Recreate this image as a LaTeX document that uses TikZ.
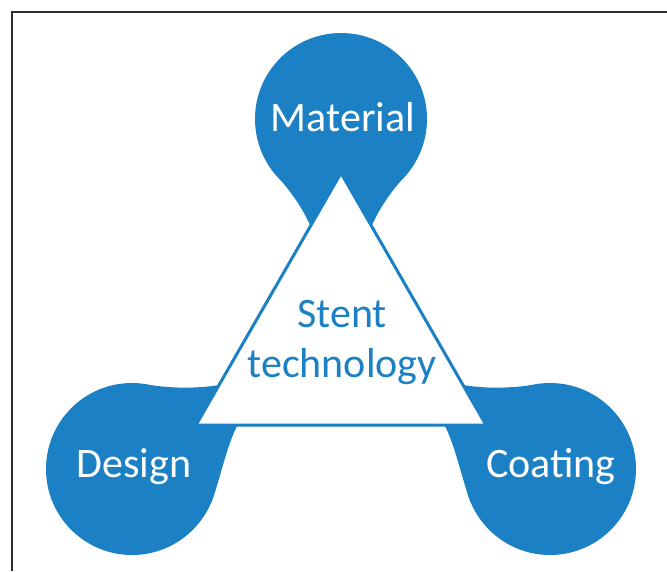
\documentclass[tikz,border=0pt]{standalone}
\usepackage{fontspec}
\setmainfont{Carlito}
\definecolor{stentblue}{RGB}{28,128,196}
\definecolor{framegray}{RGB}{45,45,45}
\begin{document}
\begin{tikzpicture}[x=1pt,y=-1pt,
  lobe/.style={circle,fill=stentblue,minimum size=172pt,inner sep=0pt},
  lbl/.style={text=white,font=\fontsize{42}{50}\selectfont,anchor=base,inner sep=0pt},
  ctext/.style={text=stentblue,font=\fontsize{42}{50}\selectfont,anchor=base,inner sep=0pt},
  blob/.style={fill=stentblue},
  tri/.style={fill=white,draw=stentblue,line width=3pt,line join=miter}]
\useasboundingbox (0,0) rectangle (667,571);
\fill[white] (0,0) rectangle (667,571);
\draw[line width=2pt, framegray] (11.7,571) -- (11.7,11.7) -- (667,11.7);
% connecting body
\path[blob] (272,170) .. controls (287,187) and (300,203) .. (310,225)
  -- (219,385) .. controls (195,389) and (170,388) .. (150,385)
  -- (211,503) .. controls (220,480) and (226,448) .. (237,426)
  -- (445,426) .. controls (456,448) and (462,480) .. (471,503)
  -- (532,385) .. controls (512,388) and (487,389) .. (463,385)
  -- (372,225) .. controls (382,203) and (395,187) .. (410,170) -- cycle;
\node[lobe] (mat) at (341,119) {};
\node[lobe] (des) at (132,469) {};
\node[lobe] (coa) at (550,469) {};
\coordinate (A) at (341,173);
\coordinate (BL) at (196,425);
\coordinate (BR) at (486,425);
\draw[tri] (A) -- (BL) -- (BR) -- cycle;
\node[lbl] (tm) at (343,131.7) {Material};
\node[lbl] (td) at (134,477.5) {Design};
\node[lbl] (tc) at (551,477.5) {Coating};
\node[ctext] (ts) at (342,327) {Stent};
\node[ctext] (tt) at (342,377) {technology};
\end{tikzpicture}
\end{document}
